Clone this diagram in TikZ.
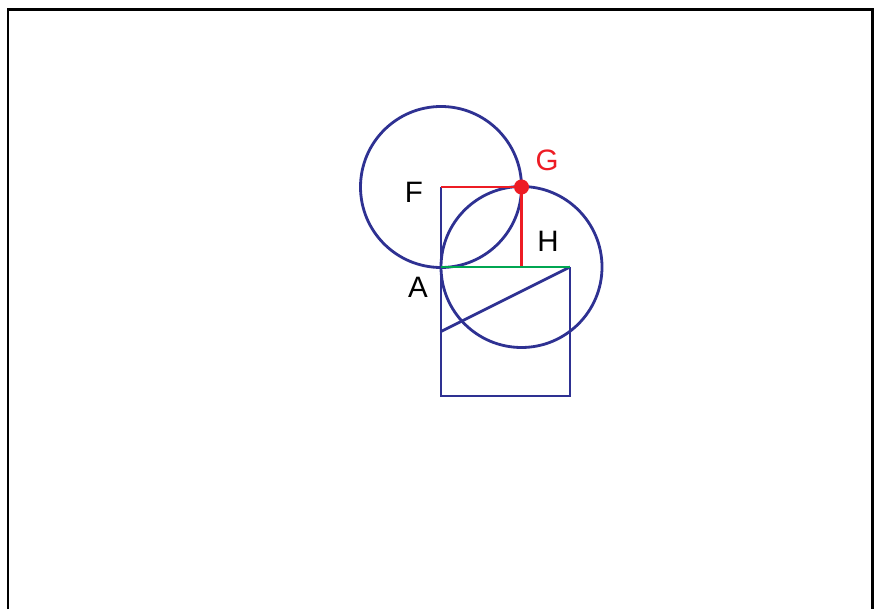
\documentclass[tikz,border=0pt]{standalone}
\usepackage{fontspec}
\setmainfont{Liberation Sans}
\usetikzlibrary{positioning}
\definecolor{geoblue}{HTML}{2E3192}
\definecolor{geored}{HTML}{ED1C24}
\definecolor{geogreen}{HTML}{00A651}
\begin{document}
\begin{tikzpicture}[blueline/.style={draw=geoblue, line width=0.8pt}, redline/.style={draw=geored, line width=0.8pt}, lbl/.style={font=\fontsize{8.4}{9}\selectfont, inner sep=0pt}]
    \useasboundingbox (0,0) rectangle (8.75,6.09);
    \draw[line width=0.85pt] (0.08,0) -- (0.08,5.99) -- (8.72,5.99) -- (8.72,0);
    \coordinate (A) at (4.41,3.42);
    \coordinate (B) at (5.70,3.42);
    \coordinate (C) at (5.70,2.13);
    \coordinate (D) at (4.41,2.13);
    \coordinate (M) at (4.41,2.775);
    \coordinate (F) at (4.41,4.22);
    \coordinate (G) at (5.215,4.22);
    \coordinate (H) at (5.215,3.42);
    \draw[blueline] (F) circle[radius=0.805cm];
    \draw[blueline] (H) circle[radius=0.805cm];
    \draw[blueline] (F) -- (D) -- (C) -- (B);
    \draw[blueline] (M) -- (B);
    \draw[redline] (F) -- (G) -- (H);
    \draw[draw=geogreen, line width=0.8pt] (A) -- (B);
    \fill[geored] (G) circle[radius=0.075cm];
    \node[lbl] (lF) at (4.14,4.17) {F};
    \node[lbl, text=geored] (lG) at (5.47,4.49) {G};
    \node[lbl] (lH) at (5.48,3.68) {H};
    \node[lbl] (lA) at (4.18,3.22) {A};
  \end{tikzpicture}
\end{document}
